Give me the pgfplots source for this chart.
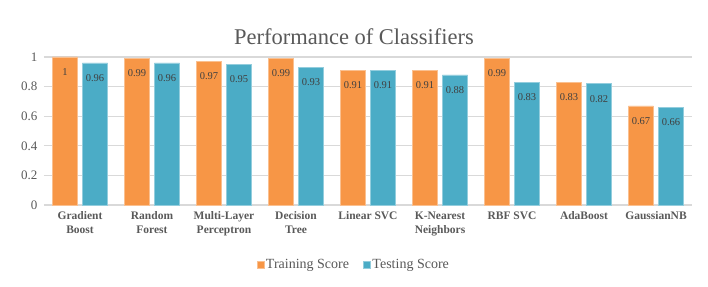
\documentclass[border=0pt]{standalone}
\usepackage{fontspec}
\setmainfont{Liberation Serif}
\usepackage{pgfplots}
\pgfplotsset{compat=1.18}
\definecolor{orng}{HTML}{F79646}
\definecolor{teal}{HTML}{4BACC6}
\definecolor{txt}{HTML}{595959}
\definecolor{lbl}{HTML}{404040}
\definecolor{grd}{HTML}{D9D9D9}
\begin{document}
\begin{tikzpicture}
\useasboundingbox (-44pt,-81pt) rectangle (664pt,205pt);
\begin{axis}[
  scale only axis,
  width=648pt, height=148pt,
  xmin=-0.5, xmax=8.5,
  ymin=0, ymax=1,
  clip=false,
  ybar=5pt,
  bar width=25pt,
  axis line style={draw=none},
  ymajorgrids,
  major grid style={grd, line width=1.2pt},
  major tick length=0pt,
  ytick={0,0.2,0.4,0.6,0.8,1},
  yticklabel style={font=\fontsize{13}{15}\selectfont, text=txt, xshift=-3pt},
  /pgf/number format/assume math mode=true,
  xtick={0,...,8},
  xticklabels={{Gradient\\Boost},{Random\\Forest},{Multi-Layer\\Perceptron},{Decision\\Tree},{Linear SVC},{K-Nearest\\Neighbors},{RBF SVC},{AdaBoost},{GaussianNB}},
  xticklabel style={font=\bfseries\fontsize{11.5}{14}\selectfont, text=txt, align=center, anchor=north, yshift=-3pt},
  nodes near coords,
  every node near coord/.append style={font=\fontsize{10.5}{12}\selectfont, text=lbl, anchor=center, yshift=-15pt},
  legend style={at={(0.478,-0.405)}, anchor=center, draw=none, legend columns=2, font=\fontsize{14}{16}\selectfont, text=txt, /tikz/every even column/.append style={column sep=12pt}},
  legend image code/.code={\fill[#1] (0pt,-3.5pt) rectangle (7pt,3.5pt);},
]
\addplot[fill=orng, draw=orng!60!white] coordinates {(0,1) (1,0.99) (2,0.97) (3,0.99) (4,0.91) (5,0.91) (6,0.99) (7,0.83) (8,0.67)};
\addplot[fill=teal, draw=teal!60!white] coordinates {(0,0.96) (1,0.96) (2,0.95) (3,0.93) (4,0.91) (5,0.88) (6,0.83) (7,0.82) (8,0.66)};
\legend{Training Score, Testing Score}
\end{axis}
\node[text=txt, font=\fontsize{22.5}{26}\selectfont] at (310pt,168pt) {Performance of Classifiers};
\end{tikzpicture}
\end{document}
